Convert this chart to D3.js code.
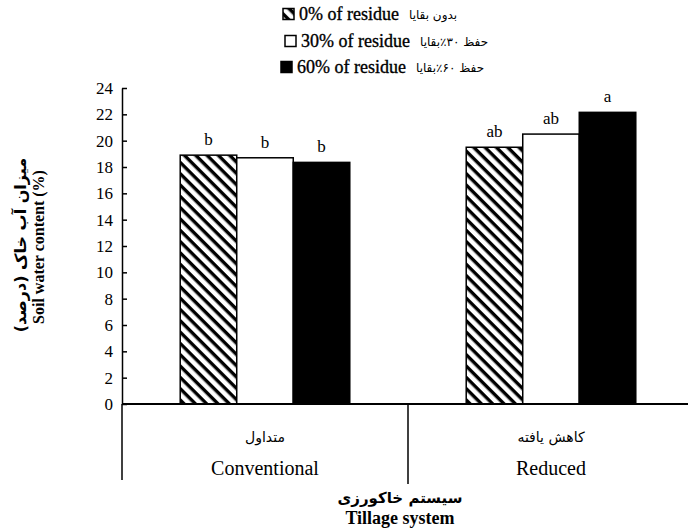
<!DOCTYPE html>
<html>
<head>
<meta charset="utf-8">
<script src="https://cdn.jsdelivr.net/npm/d3@7/dist/d3.min.js"></script>
<style>
  html, body { margin: 0; padding: 0; background: #fff; }
  svg { display: block; }
  .serif { font-family: "Liberation Serif", "Times New Roman", serif; }
  .arabic { font-family: "DejaVu Sans", sans-serif; }
</style>
</head>
<body>
<svg id="chart" width="688" height="529"></svg>
<script>
// Tillage system categories (Persian / English)
const categories = ["Conventional", "Reduced"];
const categoriesFa = ["متداول", "کاهش یافته"];

// Residue treatments
const series = ["0%", "30%", "60%"];
const seriesLabels = ["0% of residue", "30% of residue", "60% of residue"];
const seriesLabelsFa = ["بدون بقایا", "حفظ ۳۰٪بقایا", "حفظ ۶۰٪بقایا"];

// Soil water content (%) per category, in series order
const conventionalValues = [18.9, 18.7, 18.35];
const reducedValues = [19.5, 20.5, 22.15];
const valuesByCategory = [conventionalValues, reducedValues];

// Mean-separation letters
const conventionalLetters = ["b", "b", "b"];
const reducedLetters = ["ab", "ab", "a"];
const lettersByCategory = [conventionalLetters, reducedLetters];

const yTicks = [0, 2, 4, 6, 8, 10, 12, 14, 16, 18, 20, 22, 24];

const svg = d3.select("#chart");

// Diagonal hatch (top-left to bottom-right) for the 0% series
const defs = svg.append("defs");
const pat = defs.append("pattern")
  .attr("id", "hatch")
  .attr("patternUnits", "userSpaceOnUse")
  .attr("width", 8).attr("height", 8)
  .attr("patternTransform", "rotate(45)");
pat.append("rect").attr("width", 8).attr("height", 8).attr("fill", "#fff");
pat.append("rect").attr("x", 0).attr("y", 0).attr("width", 8).attr("height", 3.4).attr("fill", "#000");

const fills = ["url(#hatch)", "#fff", "#000"];

const plotLeft = 122, plotRight = 694, plotTop = 88, plotBottom = 404;

const x0 = d3.scaleBand().domain(categories).range([plotLeft, plotRight]).padding(0);
const x1 = d3.scaleBand().domain(series).range([0, x0.bandwidth()]).paddingInner(0).paddingOuter(1.03);
const y = d3.scaleLinear().domain([0, 24]).range([plotBottom, plotTop]);

// Bars
const groups = svg.append("g").selectAll("g")
  .data(categories)
  .join("g")
  .attr("transform", d => `translate(${x0(d)},0)`);

groups.selectAll("rect")
  .data((c, i) => series.map((s, j) => ({ s, v: valuesByCategory[i][j], f: fills[j] })))
  .join("rect")
  .attr("x", d => x1(d.s))
  .attr("y", d => y(d.v))
  .attr("width", x1.bandwidth())
  .attr("height", d => y(0) - y(d.v))
  .attr("fill", d => d.f)
  .attr("stroke", "#000")
  .attr("stroke-width", 1.5);

groups.selectAll("text.letter")
  .data((c, i) => series.map((s, j) => ({ s, v: valuesByCategory[i][j], l: lettersByCategory[i][j] })))
  .join("text")
  .attr("class", "letter serif")
  .attr("x", d => x1(d.s) + x1.bandwidth() / 2)
  .attr("y", d => y(d.v) - 10)
  .attr("text-anchor", "middle")
  .attr("font-size", 17)
  .text(d => d.l);

// Y axis with inside ticks
const yAxis = svg.append("g")
  .attr("transform", `translate(${plotLeft},0)`)
  .call(d3.axisLeft(y).tickValues(yTicks).tickSize(-5).tickPadding(9).tickSizeOuter(0));
yAxis.select(".domain").attr("stroke-width", 1.5);
yAxis.selectAll(".tick line").attr("stroke-width", 1.5);
yAxis.selectAll(".tick text")
  .attr("class", "serif")
  .attr("font-size", 17)
  .attr("fill", "#000");

// Baseline and category dividers
svg.append("line")
  .attr("x1", plotLeft).attr("x2", 688)
  .attr("y1", y(0)).attr("y2", y(0))
  .attr("stroke", "#000").attr("stroke-width", 2);
svg.append("line")
  .attr("x1", plotLeft).attr("x2", plotLeft)
  .attr("y1", y(0)).attr("y2", 480)
  .attr("stroke", "#000").attr("stroke-width", 1.5);
svg.append("line")
  .attr("x1", x0(categories[1])).attr("x2", x0(categories[1]))
  .attr("y1", y(0)).attr("y2", 484)
  .attr("stroke", "#000").attr("stroke-width", 1.5);

// Category labels
categories.forEach((c, i) => {
  const cx = x0(c) + x0.bandwidth() / 2;
  svg.append("text").attr("class", "arabic")
    .attr("x", cx).attr("y", 442).attr("text-anchor", "middle")
    .attr("font-size", 14).text(categoriesFa[i]);
  svg.append("text").attr("class", "serif")
    .attr("x", cx).attr("y", 475).attr("text-anchor", "middle")
    .attr("font-size", 20).text(c);
});

// X axis title
svg.append("text").attr("class", "arabic")
  .attr("x", 400).attr("y", 503).attr("text-anchor", "middle")
  .attr("font-size", 15).attr("font-weight", "bold").text("سیستم خاکورزی");
svg.append("text").attr("class", "serif")
  .attr("x", 400).attr("y", 524).attr("text-anchor", "middle")
  .attr("font-size", 18).attr("font-weight", "bold").text("Tillage system");

// Y axis title
svg.append("text").attr("class", "arabic")
  .attr("transform", "translate(26,245) rotate(-90)")
  .attr("text-anchor", "middle").attr("font-size", 16).attr("font-weight", "bold")
  .text("میزان آب خاک (درصد)");
svg.append("text").attr("class", "serif")
  .attr("transform", "translate(44,247) rotate(-90)")
  .attr("text-anchor", "middle").attr("font-size", 16).attr("font-weight", "bold")
  .text("Soil water content (%)");

// Legend
const legendRows = [14, 41, 67];
const legendMarkerX = [283, 285, 281];
const legend = svg.append("g");
series.forEach((s, i) => {
  const ry = legendRows[i];
  const mx = legendMarkerX[i];
  legend.append("rect")
    .attr("x", mx).attr("y", ry - 5.5).attr("width", 11).attr("height", 11)
    .attr("fill", fills[i]).attr("stroke", "#000").attr("stroke-width", 1.5);
  const t = legend.append("text").attr("class", "serif")
    .attr("x", mx + 16).attr("y", ry + 6)
    .attr("font-size", 18)
    .attr("stroke", "#000").attr("stroke-width", 0.35)
    .text(seriesLabels[i]);
  const w = t.node().getComputedTextLength();
  legend.append("text").attr("class", "arabic")
    .attr("x", mx + 16 + w + 10).attr("y", ry + 5)
    .attr("font-size", 12).attr("direction", "rtl").attr("text-anchor", "end")
    .text(seriesLabelsFa[i]);
});
</script>
</body>
</html>
